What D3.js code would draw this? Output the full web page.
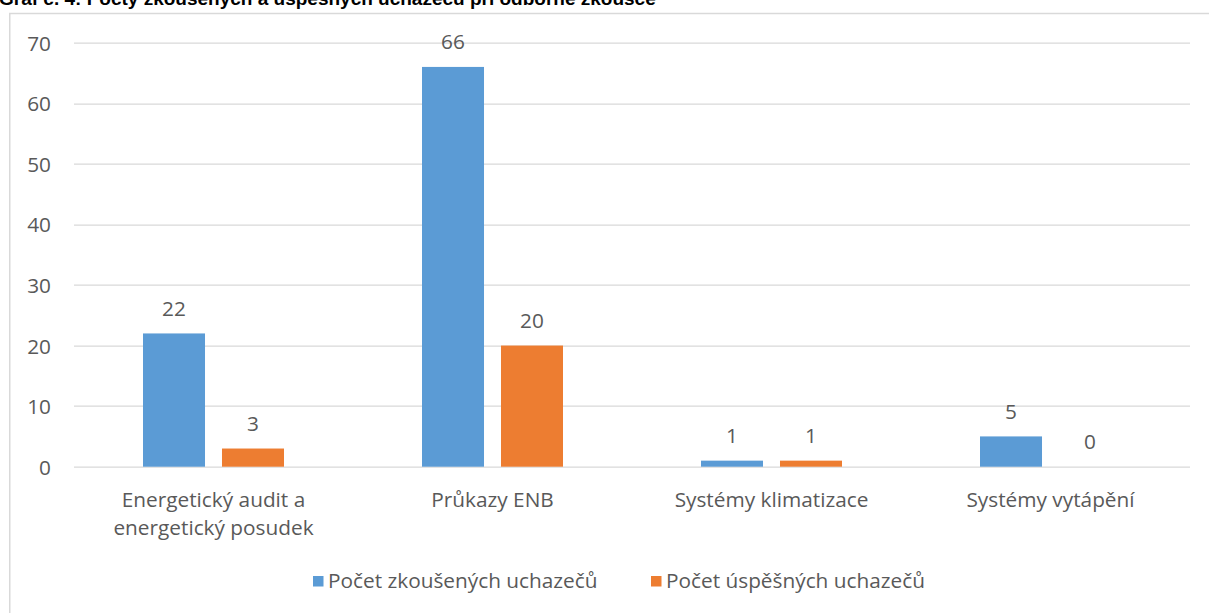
<!DOCTYPE html>
<html>
<head>
<meta charset="utf-8">
<script src="https://cdn.jsdelivr.net/npm/d3@7"></script>
<style>
  body { margin: 0; background: #fff; }
  svg { display: block; }
  .axis-label, .data-label, .legend-label { font-family: "Open Sans", sans-serif; fill: #595959; }
</style>
</head>
<body>
<svg id="chart"></svg>
<script>
// data
const categories = ["Energetický audit a energetický posudek", "Průkazy ENB", "Systémy klimatizace", "Systémy vytápění"];
const seriesNames = ["Počet zkoušených uchazečů", "Počet úspěšných uchazečů"];
const tested = [22, 66, 1, 5];
const passed = [3, 20, 1, 0];
const yTicks = [0, 10, 20, 30, 40, 50, 60, 70];
const colors = ["#5B9BD5", "#ED7D31"];
const title = "Graf č. 4: Počty zkoušených a úspěšných uchazečů při odborné zkoušce";

const width = 1209, height = 613;
const margin = {top: 42.7, right: 19, bottom: 146.3, left: 74};
const fontSize = 20.8;

const svg = d3.select('#chart')
    .attr('width', width)
    .attr('height', height);

// title, mostly cut off at top of the page
svg.append('text')
    .attr('x', -1)
    .attr('y', 5)
    .attr('font-family', 'Liberation Sans, Arial, sans-serif')
    .attr('font-weight', 'bold')
    .attr('font-size', 19)
    .attr('fill', '#000')
    .text(title);

// chart frame
svg.append('rect')
    .attr('x', 9.75)
    .attr('y', 13.5)
    .attr('width', width + 20)
    .attr('height', height + 20)
    .attr('fill', 'none')
    .attr('stroke', '#D9D9D9')
    .attr('stroke-width', 1.5);

const innerW = width - margin.left - margin.right;
const innerH = height - margin.top - margin.bottom;

const chart = svg.append('g')
    .attr('transform', `translate(${margin.left}, ${margin.top})`);

const x0 = d3.scaleBand()
    .domain(categories)
    .range([0, innerW])
    .padding(0);

// inner scale for the two bars of each group
const groupW = 141;
const x1 = d3.scaleBand()
    .domain(seriesNames)
    .range([(x0.bandwidth() - groupW) / 2, (x0.bandwidth() + groupW) / 2])
    .paddingInner(0.215);

const y = d3.scaleLinear()
    .domain([0, 70])
    .range([innerH, 0]);

// gridlines
chart.append('g')
    .selectAll('line')
    .data(yTicks)
    .join('line')
    .attr('x1', 0)
    .attr('x2', innerW)
    .attr('y1', d => Math.round(y(d)) + 0.5)
    .attr('y2', d => Math.round(y(d)) + 0.5)
    .attr('stroke', '#D9D9D9')
    .attr('stroke-width', 1.3);

// y axis labels
const yAxis = chart.append('g')
    .call(d3.axisLeft(y).tickValues(yTicks).tickSize(0).tickPadding(23));
yAxis.select('.domain').remove();
yAxis.selectAll('text')
    .attr('class', 'axis-label')
    .attr('font-size', fontSize)
    .attr('dy', '0.36em')
    .style('font-family', '"Open Sans", sans-serif')
    .attr('fill', '#595959');

// x axis labels with word wrap
const xAxis = chart.append('g')
    .attr('transform', `translate(0, ${innerH})`)
    .call(d3.axisBottom(x0).tickSize(0).tickPadding(0));
xAxis.select('.domain').remove();
xAxis.selectAll('text').remove();
xAxis.selectAll('.tick').append('text')
    .attr('class', 'axis-label')
    .attr('text-anchor', 'middle')
    .attr('font-size', fontSize)
    .each(function(d) {
        const t = d3.select(this);
        const words = d.split(' ');
        let line = [];
        let lines = [];
        words.forEach(w => {
            const test = line.concat([w]).join(' ');
            t.text(test);
            if (this.getComputedTextLength() > 255 && line.length) {
                lines.push(line.join(' '));
                line = [w];
            } else {
                line.push(w);
            }
        });
        lines.push(line.join(' '));
        t.text(null);
        lines.forEach((l, i) => {
            t.append('tspan')
                .attr('x', 0)
                .attr('y', 40 + i * 28)
                .text(l);
        });
    });

// bars
const rows = categories.map((c, i) => ({cat: c, values: [tested[i], passed[i]]}));

const groups = chart.selectAll('.group')
    .data(rows)
    .join('g')
    .attr('class', 'group')
    .attr('transform', d => `translate(${x0(d.cat)}, 0)`);

groups.selectAll('rect')
    .data(d => d.values.map((v, j) => ({name: seriesNames[j], value: v, color: colors[j]})))
    .join('rect')
    .attr('x', d => x1(d.name))
    .attr('width', x1.bandwidth())
    .attr('y', d => y(d.value))
    .attr('height', d => y(0) - y(d.value))
    .attr('fill', d => d.color);

groups.selectAll('.data-label')
    .data(d => d.values.map((v, j) => ({name: seriesNames[j], value: v})))
    .join('text')
    .attr('class', 'data-label')
    .attr('text-anchor', 'middle')
    .attr('font-size', fontSize)
    .attr('x', d => x1(d.name) + x1.bandwidth() / 2)
    .attr('y', d => y(d.value) - 17.5)
    .text(d => d.value);

// legend
const legendItems = [
    {name: seriesNames[0], color: colors[0], x: 313},
    {name: seriesNames[1], color: colors[1], x: 651}
];
const legend = svg.append('g');
const li = legend.selectAll('g')
    .data(legendItems)
    .join('g')
    .attr('transform', d => `translate(${d.x}, 576)`);
li.append('rect')
    .attr('width', 10.5)
    .attr('height', 10.5)
    .attr('fill', d => d.color);
li.append('text')
    .attr('class', 'legend-label')
    .attr('x', 15)
    .attr('y', 11.7)
    .attr('font-size', fontSize)
    .text(d => d.name);
</script>
</body>
</html>
